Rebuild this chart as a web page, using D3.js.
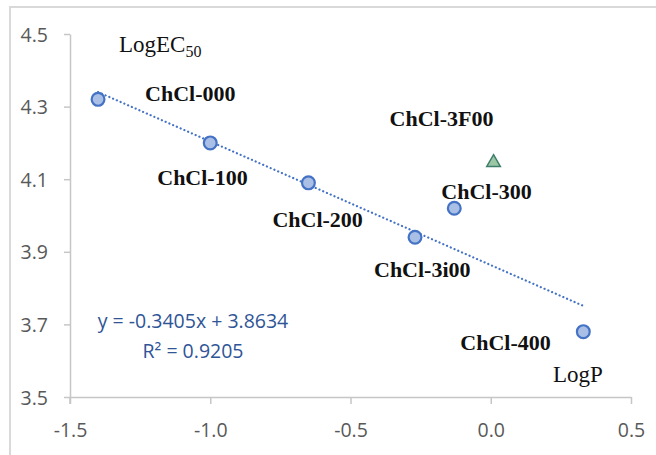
<!DOCTYPE html>
<html>
<head>
<meta charset="utf-8">
<script src="https://cdn.jsdelivr.net/npm/d3@7"></script>
<style>
  body { margin: 0; background: #fff; }
  svg { display: block; }
</style>
</head>
<body>
<svg class="chart"></svg>
<script>
// samples on the fitted line
let names = ["ChCl-000", "ChCl-100", "ChCl-200", "ChCl-3i00", "ChCl-300", "ChCl-400"];
let logP = [-1.40, -1.00, -0.65, -0.27, -0.13, 0.33];
let logEC = [4.32, 4.20, 4.09, 3.94, 4.02, 3.68];

// the outlier drawn as a triangle
let outlierName = ["ChCl-3F00"];
let outlierLogP = [0.01];
let outlierLogEC = [4.15];

let xTicks = [-1.5, -1.0, -0.5, 0.0, 0.5];
let yTicks = [3.5, 3.7, 3.9, 4.1, 4.3, 4.5];

let slope = -0.3405, intercept = 3.8634, r2 = 0.9205;

let width = 656, height = 455;
let svg = d3.select('.chart')
    .attr("width", width)
    .attr("height", height);

// light frame round the picture
svg.append("rect")
    .attr("x", 10).attr("y", 7)
    .attr("width", 700).attr("height", 500)
    .attr("fill", "none")
    .attr("stroke", "#d9d9d9")
    .attr("stroke-width", 2);

let x = d3.scaleLinear().domain([-1.5, 0.5]).range([70, 631]);
let y = d3.scaleLinear().domain([3.5, 4.5]).range([397, 34]);

let axisColor = "#c6c6c6";
// plain hyphen instead of d3's unicode minus
let fmt = d => d.toFixed(1);

// x axis
let xAxis = svg.append("g")
    .attr("transform", "translate(0," + y(3.5) + ")")
    .call(d3.axisBottom(x).tickValues(xTicks).tickFormat(fmt).tickSize(7).tickSizeOuter(0));
xAxis.select(".domain").attr("stroke", axisColor).attr("stroke-width", 1.5);
xAxis.selectAll(".tick line").attr("stroke", axisColor).attr("stroke-width", 1.5);
xAxis.selectAll(".tick text")
    .attr("y", 0).attr("dy", 0)
    .attr("transform", "translate(0,40)")
    .attr("fill", "#595959")
    .style("font-family", "'Open Sans', sans-serif")
    .style("font-size", "19.5px");

// y axis
let yAxis = svg.append("g")
    .attr("transform", "translate(" + x(-1.5) + ",0)")
    .call(d3.axisLeft(y).tickValues(yTicks).tickFormat(fmt).tickSize(6).tickSizeOuter(0));
yAxis.select(".domain").attr("stroke", axisColor).attr("stroke-width", 1.5);
yAxis.selectAll(".tick line").attr("stroke", axisColor).attr("stroke-width", 1.5);
yAxis.selectAll(".tick text")
    .attr("x", -22).attr("dy", "0.36em")
    .attr("fill", "#595959")
    .style("font-family", "'Open Sans', sans-serif")
    .style("font-size", "19.5px");
// axis line runs a little below the x axis
svg.append("line")
    .attr("x1", x(-1.5)).attr("x2", x(-1.5))
    .attr("y1", y(3.5)).attr("y2", y(3.5) + 7)
    .attr("stroke", axisColor).attr("stroke-width", 1.5);

// linear trendline over the fitted samples
let xMin = d3.min(logP), xMax = d3.max(logP);
svg.append("line")
    .attr("x1", x(xMin)).attr("y1", y(slope * xMin + intercept))
    .attr("x2", x(xMax)).attr("y2", y(slope * xMax + intercept))
    .attr("stroke", "#4472c4")
    .attr("stroke-width", 2.2)
    .attr("stroke-dasharray", "0.1,4")
    .attr("stroke-linecap", "round");

let points = names.map((n, i) => ({name: n, x: logP[i], y: logEC[i]}));
let outliers = outlierName.map((n, i) => ({name: n, x: outlierLogP[i], y: outlierLogEC[i]}));

svg.selectAll("circle.pt")
    .data(points)
    .enter()
    .append("circle")
    .attr("class", "pt")
    .attr("cx", d => x(d.x))
    .attr("cy", d => y(d.y))
    .attr("r", 6.4)
    .attr("fill", "#a9bfe6")
    .attr("stroke", "#4472c4")
    .attr("stroke-width", 2.2);

svg.selectAll("path.tri")
    .data(outliers)
    .enter()
    .append("path")
    .attr("class", "tri")
    .attr("d", d3.symbol().type(d3.symbolTriangle).size(80))
    .attr("transform", d => "translate(" + x(d.x) + "," + (y(d.y) + 1.5) + ")")
    .attr("fill", "#9cc7a4")
    .attr("stroke", "#3f7d6c")
    .attr("stroke-width", 1.5);

// label offsets from each marker (start anchor, baseline)
let labelOffset = {
    "ChCl-000": [47, 2],
    "ChCl-100": [-53, 42],
    "ChCl-200": [-36, 44],
    "ChCl-3i00": [-41, 40],
    "ChCl-300": [-13, -9],
    "ChCl-3F00": [-104, -35],
    "ChCl-400": [-123, 18]
};

svg.selectAll("text.lbl")
    .data(points.concat(outliers))
    .enter()
    .append("text")
    .attr("class", "lbl")
    .attr("x", d => x(d.x) + labelOffset[d.name][0])
    .attr("y", d => y(d.y) + labelOffset[d.name][1])
    .style("font-family", "'Liberation Serif', 'Times New Roman', serif")
    .style("font-weight", "bold")
    .style("font-size", "22px")
    .attr("fill", "#111")
    .text(d => d.name);

// axis titles inside the plot
let yTitle = svg.append("text")
    .attr("x", 119).attr("y", 52)
    .style("font-family", "'Liberation Serif', 'Times New Roman', serif")
    .style("font-size", "23px")
    .attr("fill", "#111")
    .text("LogEC");
yTitle.append("tspan")
    .attr("dy", 5)
    .style("font-size", "16px")
    .text("50");

svg.append("text")
    .attr("x", 553).attr("y", 382)
    .style("font-family", "'Liberation Serif', 'Times New Roman', serif")
    .style("font-size", "23px")
    .attr("fill", "#111")
    .text("LogP");

// trendline equation
let eq = svg.append("g")
    .attr("fill", "#2f5597")
    .style("font-family", "'Open Sans', sans-serif")
    .style("font-size", "19.5px")
    .attr("text-anchor", "middle");
eq.append("text")
    .attr("x", 193).attr("y", 328)
    .text("y = " + slope.toFixed(4) + "x + " + intercept.toFixed(4));
eq.append("text")
    .attr("x", 193).attr("y", 358)
    .text("R² = " + r2.toFixed(4));
</script>
</body>
</html>
